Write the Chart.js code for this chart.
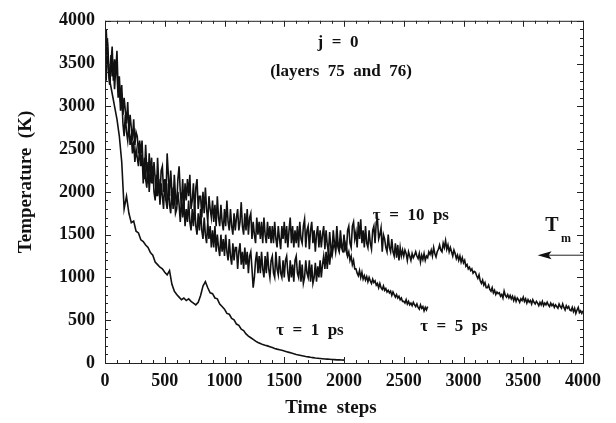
<!DOCTYPE html>
<html>
<head>
<meta charset="utf-8">
<script src="https://cdn.jsdelivr.net/npm/chart.js@4"></script>
<style>
  html, body { margin: 0; padding: 0; background: #fff; }
  #wrap { width: 616px; height: 423px; }
</style>
</head>
<body>
<div id="wrap"><canvas id="graph" width="616" height="423"></canvas></div>
<script>
// sampling intervals (time steps)
const STEP_FINE = 10;    // tau = 10 ps and tau = 5 ps
const STEP_COARSE = 20;  // tau = 1 ps

// tau = 10 ps, steps 0..4000, one row per 100 steps
const tau10 = [
  3350, 3900, 3600, 3450, 3250, 3500, 3700, 3300, 3550, 3400,
  3650, 3200, 3350, 3050, 3250, 2900, 3100, 2950, 2800, 3050,
  2700, 2900, 2750, 2600, 2850, 2550, 2700, 2650, 2450, 2600,
  2450, 2600, 2250, 2150, 2550, 2250, 2100, 2450, 2200, 2400,
  2100, 2350, 2150, 1950, 2400, 2100, 1950, 2250, 2300, 2000,
  2150, 1900, 2450, 2200, 1950, 2250, 2000, 1850, 2200, 1950,
  1850, 2150, 2300, 2000, 1850, 2150, 1800, 2100, 1900, 2150,
  1950, 2200, 1800, 1900, 2100, 1750, 2050, 2150, 1800, 1950,
  1950, 1700, 2000, 1750, 2050, 1800, 1650, 1950, 1800, 1700,
  1900, 1650, 1850, 1600, 1950, 1700, 1600, 1850, 1650, 1550,
  1800, 1600, 1900, 1650, 1550, 1800, 1600, 1500, 1750, 1550,
  1700, 1800, 1550, 1650, 1880, 1600, 1500, 1750, 1550, 1800,
  1500, 1700, 1750, 1450, 1650, 1500, 1400, 1700, 1500, 1650,
  1450, 1650, 1400, 1700, 1500, 1400, 1650, 1450, 1600, 1400,
  1600, 1400, 1650, 1450, 1350, 1600, 1450, 1330, 1600, 1450,
  1650, 1400, 1600, 1350, 1550, 1700, 1400, 1600, 1350, 1550,
  1400, 1600, 1350, 1650, 1450, 1400, 1600, 1680, 1350, 1550,
  1600, 1330, 1550, 1650, 1400, 1550, 1300, 1500, 1600, 1350,
  1550, 1350, 1500, 1600, 1330, 1550, 1380, 1300, 1530, 1350,
  1300, 1550, 1400, 1350, 1600, 1400, 1330, 1550, 1380, 1330,
  1500, 1350, 1300, 1550, 1600, 1400, 1350, 1600, 1650, 1450,
  1530, 1350, 1650, 1450, 1680, 1400, 1550, 1350, 1600, 1400,
  1350, 1550, 1400, 1330, 1550, 1600, 1400, 1650, 1680, 1450,
  1500, 1580, 1300, 1500, 1450, 1350, 1300, 1500, 1350, 1300,
  1450, 1300, 1250, 1400, 1230, 1380, 1200, 1350, 1250, 1320,
  1250, 1320, 1280, 1200, 1300, 1250, 1200, 1280, 1230, 1260,
  1300, 1250, 1220, 1280, 1180, 1260, 1210, 1280, 1200, 1250,
  1230, 1300, 1270, 1320, 1250, 1350, 1280, 1240, 1300, 1330,
  1380, 1320, 1300, 1400, 1350, 1430, 1330, 1380, 1300, 1350,
  1300, 1250, 1320, 1280, 1220, 1260, 1200, 1250, 1180, 1230,
  1170, 1200, 1130, 1150, 1100, 1120, 1080, 1100, 1050, 1070,
  1060, 1020, 990, 1030, 960, 930, 970, 910, 940, 880,
  880, 910, 860, 840, 880, 820, 850, 800, 830, 810,
  820, 780, 800, 760, 840, 790, 770, 800, 760, 790,
  750, 780, 730, 770, 720, 760, 740, 710, 750, 730,
  770, 720, 750, 700, 740, 710, 730, 690, 740, 710,
  690, 720, 700, 670, 710, 680, 720, 670, 700, 680,
  710, 680, 660, 700, 670, 690, 650, 680, 660, 640,
  690, 660, 640, 690, 650, 620, 670, 640, 660, 620,
  610, 650, 600, 640, 580, 620, 650, 590, 610, 580,
  610
];

// tau = 5 ps, steps 0..2700
const tau5 = [
  3500, 3300, 3800, 3400, 3250, 3600, 3350, 3500, 3200, 3450,
  3400, 3100, 3250, 2950, 3150, 2800, 2650, 2900, 2700, 2600,
  2800, 2550, 2650, 2450, 2600, 2350, 2500, 2400, 2300, 2550,
  2300, 2450, 2100, 2400, 2150, 2050, 2350, 2000, 2250, 2100,
  2300, 2000, 1900, 2200, 1950, 2150, 1850, 2100, 1950, 1800,
  2150, 1900, 1800, 2100, 1850, 1750, 2050, 1800, 2000, 1750,
  1800, 2000, 1850, 1650, 1950, 1700, 1900, 1600, 1800, 1650,
  1900, 1650, 1550, 1800, 1600, 1850, 1600, 1500, 1750, 1550,
  1800, 1550, 1450, 1700, 1500, 1400, 1650, 1450, 1600, 1350,
  1550, 1350, 1600, 1300, 1500, 1350, 1250, 1500, 1300, 1450,
  1250, 1500, 1300, 1200, 1450, 1250, 1150, 1400, 1200, 1350,
  1350, 1100, 1300, 1400, 1150, 1300, 1100, 1350, 1150, 1300,
  1050, 1250, 1300, 1100, 880, 1000, 1200, 1300, 1050, 1250,
  1050, 1300, 1100, 1000, 1250, 1050, 1300, 1100, 1000, 1200,
  1250, 1050, 1000, 1300, 1100, 1030, 1250, 1050, 1000, 1200,
  1000, 1200, 1250, 1050, 950, 1200, 1000, 1150, 950, 1200,
  1250, 1050, 1000, 1200, 950, 1150, 930, 1000, 1200, 1050,
  1000, 1200, 950, 1150, 930, 1000, 1170, 950, 1130, 1000,
  1200, 1000, 1150, 1250, 1100, 1300, 1100, 1350, 1150, 1300,
  1250, 1350, 1400, 1300, 1450, 1350, 1300, 1400, 1350, 1300,
  1300, 1400, 1350, 1250, 1300, 1200, 1250, 1150, 1200, 1100,
  1100, 1050, 1020, 1080, 1000, 1060, 980, 1020, 970, 1010,
  950, 1000, 960, 930, 980, 940, 960, 910, 930, 880,
  930, 880, 860, 900, 850, 870, 830, 850, 820, 840,
  790, 830, 800, 770, 800, 760, 780, 740, 760, 720,
  720, 700, 740, 690, 720, 680, 700, 670, 710, 680,
  660, 690, 650, 630, 680, 640, 660, 610, 650, 620,
  660
];

// tau = 1 ps, steps 0..2000
const tau1 = [
  3500, 3750, 3300, 3150, 3000,
  2850, 2650, 2350, 1800, 1950,
  1750, 1640, 1660, 1540, 1520,
  1440, 1420, 1380, 1350, 1290,
  1260, 1180, 1150, 1120, 1100,
  1060, 1030, 1080, 920, 840,
  800, 770, 740, 760, 730,
  750, 720, 700, 680, 710,
  790, 900, 950, 880, 820,
  810, 760, 750, 690, 660,
  630, 580, 570, 520, 505,
  455, 440, 395, 380, 340,
  315, 295, 275, 255, 240,
  228, 215, 207, 200, 190,
  180, 170, 162, 155, 148,
  140, 132, 124, 116, 108,
  100, 94, 88, 82, 76,
  72, 67, 63, 59, 56,
  53, 50, 47, 45, 43,
  41, 39, 37, 36, 35,
  34
];

const xTicks = [0, 500, 1000, 1500, 2000, 2500, 3000, 3500, 4000];
const yTicks = [0, 500, 1000, 1500, 2000, 2500, 3000, 3500, 4000];
const T_MELT = 1260;

const FONT = "'Liberation Serif', 'Times New Roman', serif";

function toPoints(arr, step) {
  return arr.map((v, i) => ({ x: i * step, y: v }));
}

function line(arr, step) {
  return {
    data: toPoints(arr, step),
    borderColor: '#111',
    borderWidth: 1.6,
    pointRadius: 0,
    tension: 0,
    fill: false
  };
}

// inward ticks on all four sides, box frame, titles and labels
const decor = {
  id: 'decor',
  afterDraw(chart) {
    const ctx = chart.ctx;
    const { left, right, top, bottom } = chart.chartArea;
    const xs = chart.scales.x, ys = chart.scales.y;

    ctx.save();
    ctx.strokeStyle = '#222';
    ctx.lineWidth = 1;
    ctx.strokeRect(left + 0.5, top + 0.5, right - left, bottom - top);

    ctx.beginPath();
    for (let v = 0; v <= 4000; v += 100) {
      const len = v % 500 === 0 ? 6 : 3;
      const px = Math.round(xs.getPixelForValue(v)) + 0.5;
      ctx.moveTo(px, bottom); ctx.lineTo(px, bottom - len);
      ctx.moveTo(px, top); ctx.lineTo(px, top + len);
      const py = Math.round(ys.getPixelForValue(v)) + 0.5;
      ctx.moveTo(left, py); ctx.lineTo(left + len, py);
      ctx.moveTo(right, py); ctx.lineTo(right - len, py);
    }
    ctx.stroke();

    ctx.fillStyle = '#111';
    ctx.textAlign = 'center';
    ctx.textBaseline = 'middle';

    // axis titles
    ctx.font = 'bold 19px ' + FONT;
    ctx.fillText('Time  steps', 331, 408);
    ctx.save();
    ctx.translate(26, 182);
    ctx.rotate(-Math.PI / 2);
    ctx.fillText('Temperature  (K)', 0, 0);
    ctx.restore();

    const at = (x, y) => [xs.getPixelForValue(x), ys.getPixelForValue(y)];

    ctx.font = 'bold 17px ' + FONT;
    let p = at(1950, 3750);
    ctx.fillText('j  =  0', p[0], p[1]);
    p = at(1975, 3410);
    ctx.fillText('(layers  75  and  76)', p[0], p[1]);
    p = at(2560, 1720);
    ctx.fillText('\u03c4  =  10  ps', p[0], p[1]);
    p = at(2920, 420);
    ctx.fillText('\u03c4  =  5  ps', p[0], p[1]);
    p = at(1715, 375);
    ctx.fillText('\u03c4  =  1  ps', p[0], p[1]);

    // T_m marker with arrow
    ctx.font = 'bold 20px ' + FONT;
    ctx.fillText('T', 552, 226);
    ctx.font = 'bold 12px ' + FONT;
    ctx.fillText('m', 566, 239);

    const ay = ys.getPixelForValue(T_MELT);
    const ax = xs.getPixelForValue(3620);
    ctx.beginPath();
    ctx.moveTo(right, ay);
    ctx.lineTo(ax + 8, ay);
    ctx.stroke();
    ctx.beginPath();
    ctx.moveTo(ax, ay);
    ctx.lineTo(ax + 14, ay - 4);
    ctx.lineTo(ax + 11, ay);
    ctx.lineTo(ax + 14, ay + 4);
    ctx.closePath();
    ctx.fill();
    ctx.restore();
  }
};

new Chart(document.getElementById('graph').getContext('2d'), {
  type: 'line',
  data: {
    datasets: [
      line(tau10, STEP_FINE),
      line(tau5, STEP_FINE),
      line(tau1, STEP_COARSE)
    ]
  },
  options: {
    responsive: false,
    animation: false,
    layout: { padding: { left: 0, right: 33, top: 10, bottom: 0 } },
    plugins: { legend: { display: false }, tooltip: { enabled: false } },
    scales: {
      x: {
        type: 'linear',
        min: 0,
        max: 4000,
        afterFit: s => { s.height = 60; },
        afterBuildTicks: s => { s.ticks = xTicks.map(v => ({ value: v })); },
        grid: { display: false, drawTicks: false },
        border: { display: false },
        ticks: {
          color: '#111',
          padding: 8,
          maxRotation: 0,
          callback: v => String(v),
          font: { family: FONT, size: 18, weight: 'bold' }
        }
      },
      y: {
        min: 0,
        max: 4000,
        afterFit: s => { s.width = 105; },
        afterBuildTicks: s => { s.ticks = yTicks.map(v => ({ value: v })); },
        grid: { display: false, drawTicks: false },
        border: { display: false },
        ticks: {
          color: '#111',
          padding: 10,
          callback: v => String(v),
          font: { family: FONT, size: 18, weight: 'bold' }
        }
      }
    }
  },
  plugins: [decor]
});
</script>
</body>
</html>
